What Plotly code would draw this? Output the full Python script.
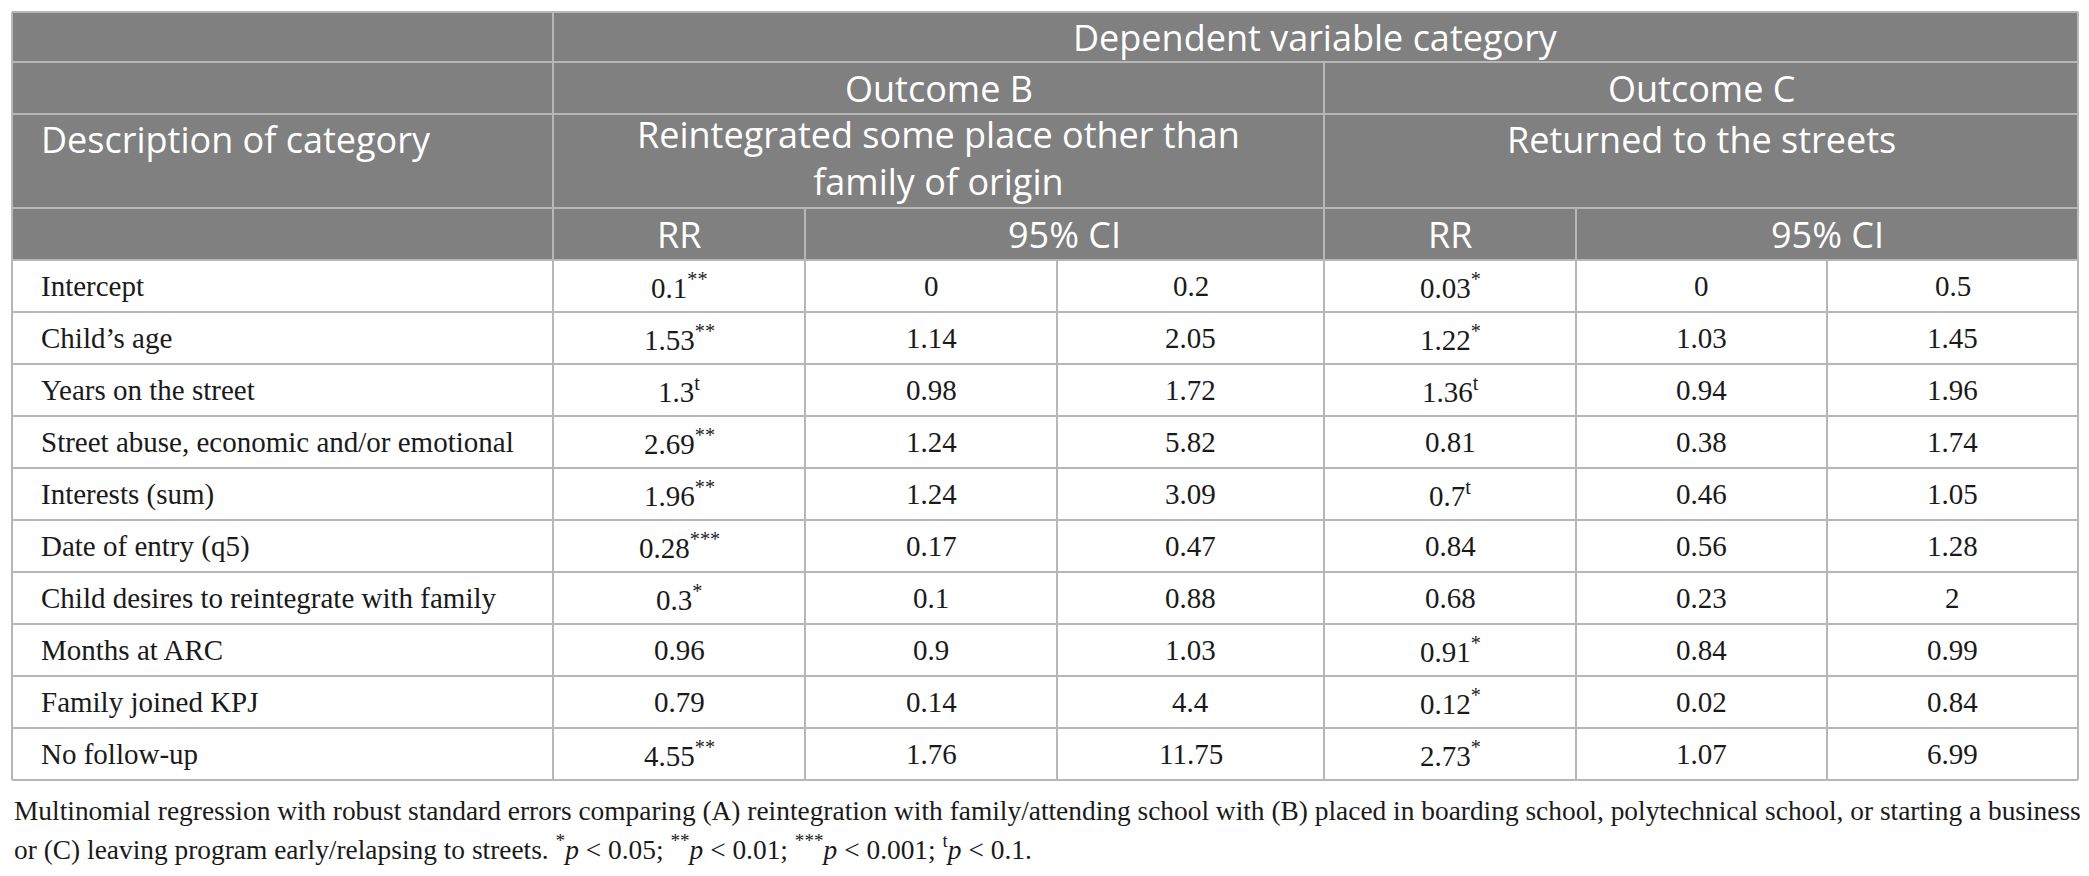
import plotly.graph_objects as go

# rows of the table
categories = [
    "Intercept",
    "Child’s age",
    "Years on the street",
    "Street abuse, economic and/or emotional",
    "Interests (sum)",
    "Date of entry (q5)",
    "Child desires to reintegrate with family",
    "Months at ARC",
    "Family joined KPJ",
    "No follow-up",
]

# Outcome B: reintegrated some place other than family of origin
b_rr = ["0.1", "1.53", "1.3", "2.69", "1.96", "0.28", "0.3", "0.96", "0.79", "4.55"]
b_sig = ["**", "**", "t", "**", "**", "***", "*", "", "", "**"]
b_lo = ["0", "1.14", "0.98", "1.24", "1.24", "0.17", "0.1", "0.9", "0.14", "1.76"]
b_hi = ["0.2", "2.05", "1.72", "5.82", "3.09", "0.47", "0.88", "1.03", "4.4", "11.75"]

# Outcome C: returned to the streets
c_rr = ["0.03", "1.22", "1.36", "0.81", "0.7", "0.84", "0.68", "0.91", "0.12", "2.73"]
c_sig = ["*", "*", "t", "", "t", "", "", "*", "*", "*"]
c_lo = ["0", "1.03", "0.94", "0.38", "0.46", "0.56", "0.23", "0.84", "0.02", "1.07"]
c_hi = ["0.5", "1.45", "1.96", "1.74", "1.05", "1.28", "2", "0.99", "0.84", "6.99"]

footnote = [
    "Multinomial regression with robust standard errors comparing (A) reintegration with family/attending school "
    "with (B) placed in boarding school, polytechnical school, or starting a business",
    "or (C) leaving program early/relapsing to streets. <sup>*</sup><i>p</i> &lt; 0.05; "
    "<sup>**</sup><i>p</i> &lt; 0.01; <sup>***</sup><i>p</i> &lt; 0.001; <sup>t</sup><i>p</i> &lt; 0.1.",
]

# page geometry (pixels); the page body has an 8px margin, so the axes are shifted by it
W, H = 2089, 876
OFF = 8
col_x = [12, 553, 805, 1057, 1324, 1576, 1827, 2078]
head_y = [12, 62, 114, 208, 260]
row_h = 52
row_y = [head_y[-1] + i * row_h for i in range(len(categories) + 1)]

HEAD_BG = "#808080"
GRID = "#b7b7b7"
head_font = dict(family="Open Sans", size=36, color="white")
body_font = dict(family="Liberation Serif", size=29, color="#1a1a1a")
note_font = dict(family="Liberation Serif", size=27.4, color="#1a1a1a")

fig = go.Figure(go.Scatter(x=[], y=[], hoverinfo="skip", showlegend=False))

shapes = []
# header background
shapes.append(dict(type="rect", x0=col_x[0], x1=col_x[-1], y0=head_y[0], y1=head_y[-1],
                   fillcolor=HEAD_BG, line_width=0, layer="below"))


def hline(y, x0=col_x[0], x1=col_x[-1]):
    shapes.append(dict(type="line", x0=x0, x1=x1, y0=y, y1=y, line=dict(color=GRID, width=2)))


def vline(x, y0, y1=row_y[-1]):
    shapes.append(dict(type="line", x0=x, x1=x, y0=y0, y1=y1, line=dict(color=GRID, width=2)))


for y in head_y + row_y[1:]:
    hline(y)
vline(col_x[0], head_y[0])
vline(col_x[-1], head_y[0])
vline(col_x[1], head_y[0])
vline(col_x[4], head_y[1])
vline(col_x[2], head_y[3])
vline(col_x[5], head_y[3])
vline(col_x[3], head_y[4])
vline(col_x[6], head_y[4])

annotations = []


def text(x, y, s, font, xanchor="center"):
    annotations.append(dict(x=x, y=y, text=s, showarrow=False, xanchor=xanchor,
                            yanchor="middle", font=font, xref="x", yref="y"))


def mid(a, b):
    return (a + b) / 2


# header texts
text(mid(col_x[1], col_x[-1]), mid(head_y[0], head_y[1]), "Dependent variable category", head_font)
text(mid(col_x[1], col_x[4]), mid(head_y[1], head_y[2]), "Outcome B", head_font)
text(mid(col_x[4], col_x[-1]), mid(head_y[1], head_y[2]), "Outcome C", head_font)
text(col_x[0] + 27, head_y[2] + 25, "Description of category", head_font, "left")
text(mid(col_x[1], col_x[4]), head_y[2] + 44, "Reintegrated some place other than<br>family of origin", head_font)
text(mid(col_x[4], col_x[-1]), head_y[2] + 25, "Returned to the streets", head_font)
text(mid(col_x[1], col_x[2]), mid(head_y[3], head_y[4]), "RR", head_font)
text(mid(col_x[2], col_x[4]), mid(head_y[3], head_y[4]), "95% CI", head_font)
text(mid(col_x[4], col_x[5]), mid(head_y[3], head_y[4]), "RR", head_font)
text(mid(col_x[5], col_x[-1]), mid(head_y[3], head_y[4]), "95% CI", head_font)


def with_sig(v, s):
    return f"{v}<sup>{s}</sup>" if s else v


# body cells
for i, cat in enumerate(categories):
    yc = mid(row_y[i], row_y[i + 1])
    text(col_x[0] + 27, yc, cat, body_font, "left")
    cells = [with_sig(b_rr[i], b_sig[i]), b_lo[i], b_hi[i],
             with_sig(c_rr[i], c_sig[i]), c_lo[i], c_hi[i]]
    for j, c in enumerate(cells):
        text(mid(col_x[j + 1], col_x[j + 2]), yc, c, body_font)

# footnote
for k, line in enumerate(footnote):
    text(col_x[0], row_y[-1] + 31 + k * 36, line, note_font, "left")

fig.update_layout(
    width=W, height=H,
    margin=dict(l=0, r=0, t=0, b=0),
    paper_bgcolor="white", plot_bgcolor="white",
    xaxis=dict(range=[OFF, W + OFF], visible=False, fixedrange=True),
    yaxis=dict(range=[H + OFF, OFF], visible=False, fixedrange=True),
    shapes=shapes,
    annotations=annotations,
)

fig.write_html("out.html")
